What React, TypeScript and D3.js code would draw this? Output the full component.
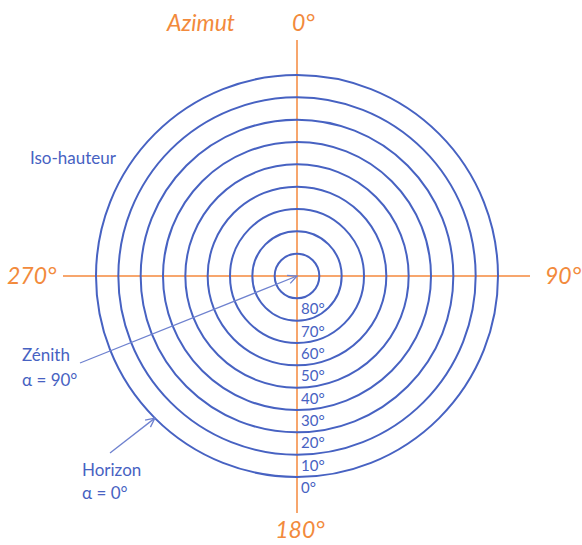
import React from "react";
import * as d3 from "d3";

const altitudes = [80, 70, 60, 50, 40, 30, 20, 10, 0];
const altitudeLabels = ["80°", "70°", "60°", "50°", "40°", "30°", "20°", "10°", "0°"];
const azimuthLabels = [
  { az: 0, text: "0°" },
  { az: 90, text: "90°" },
  { az: 180, text: "180°" },
  { az: 270, text: "270°" },
];

const W = 582, H = 545;
const cx = 297, cy = 276;
const BLUE = "#4762c2";
const BLUE_LIGHT = "#6f82cf";
const ORANGE = "#f5893c";
const ORANGE_TXT = "#f28a3c";
const FONT = "Lato, 'Open Sans', sans-serif";

export default function App() {
  const r = d3.scaleLinear().domain([90, 0]).range([0, 201]);
  const arrowTip = (x1: number, y1: number, x2: number, y2: number, len = 10, ang = 0.45) => {
    const a = Math.atan2(y2 - y1, x2 - x1);
    const p1 = [x2 - len * Math.cos(a - ang), y2 - len * Math.sin(a - ang)];
    const p2 = [x2 - len * Math.cos(a + ang), y2 - len * Math.sin(a + ang)];
    return `M${p1[0]},${p1[1]}L${x2},${y2}L${p2[0]},${p2[1]}`;
  };
  const hx = cx - r(0) * Math.cos(Math.PI / 4);
  const hy = cy + r(0) * Math.sin(Math.PI / 4);
  return (
    <svg width={W} height={H} style={{ position: "absolute", left: 0, top: 0, background: "#fff" }}>
      {/* orange axes */}
      <line x1={63} y1={cy} x2={530} y2={cy} stroke={ORANGE} strokeWidth={1.5} />
      <line x1={cx} y1={40} x2={cx} y2={513} stroke={ORANGE} strokeWidth={1.5} />
      {altitudes.map((a) => (
        <circle key={a} cx={cx} cy={cy} r={r(a)} fill="none" stroke={BLUE} strokeWidth={2} />
      ))}
      {altitudes.map((a, i) => (
        <text key={"l" + a} x={cx + 4} y={cy + r(a) + 10} dominantBaseline="central"
          fontFamily={FONT} fontSize={15} fill={BLUE}>{altitudeLabels[i]}</text>
      ))}
      {/* azimuth labels */}
      <text x={292} y={31} fontFamily={FONT} fontStyle="italic" fontSize={23} fill={ORANGE_TXT}>{azimuthLabels[0].text}</text>
      <text x={545} y={284} fontFamily={FONT} fontStyle="italic" fontSize={23} fill={ORANGE_TXT}>{azimuthLabels[1].text}</text>
      <text x={300} y={538} textAnchor="middle" fontFamily={FONT} fontStyle="italic" fontSize={23} fill={ORANGE_TXT}>{azimuthLabels[2].text}</text>
      <text x={7} y={284} fontFamily={FONT} fontStyle="italic" fontSize={23} fill={ORANGE_TXT}>{azimuthLabels[3].text}</text>
      <text x={167} y={31} fontFamily={FONT} fontStyle="italic" fontSize={23} fill={ORANGE_TXT}>Azimut</text>
      {/* annotations */}
      <text x={30} y={164} fontFamily={FONT} fontSize={17} fill={BLUE}>Iso-hauteur</text>
      <text x={22} y={361} fontFamily={FONT} fontSize={17} fill={BLUE}>Zénith</text>
      <text x={22} y={386} fontFamily={FONT} fontSize={17} fill={BLUE}>α = 90°</text>
      <text x={82} y={476} fontFamily={FONT} fontSize={17} fill={BLUE}>Horizon</text>
      <text x={82} y={499} fontFamily={FONT} fontSize={17} fill={BLUE}>α = 0°</text>
      <line x1={80} y1={363} x2={cx} y2={cy} stroke={BLUE_LIGHT} strokeWidth={1.3} />
      <path d={arrowTip(80, 363, cx, cy)} fill="none" stroke={BLUE_LIGHT} strokeWidth={1.3} />
      <line x1={110} y1={453} x2={hx} y2={hy} stroke={BLUE_LIGHT} strokeWidth={1.3} />
      <path d={arrowTip(110, 453, hx, hy)} fill="none" stroke={BLUE_LIGHT} strokeWidth={1.3} />
    </svg>
  );
}
